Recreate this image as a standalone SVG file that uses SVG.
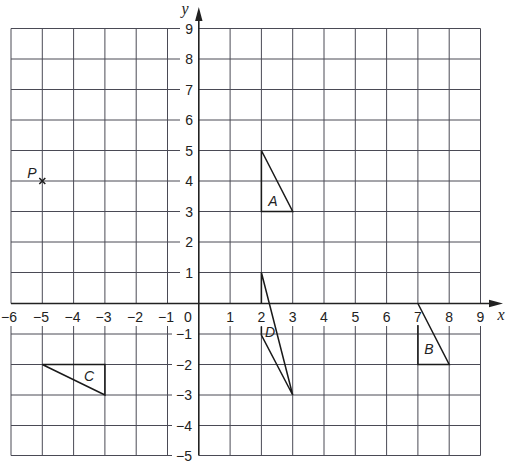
<svg xmlns="http://www.w3.org/2000/svg" width="508" height="471" viewBox="0 0 508 471">
<style>
.grid{stroke:#4a4a55;stroke-width:1;fill:none}
.axis{stroke:#222;stroke-width:1.6;fill:none}
.shape{stroke:#1a1a1a;stroke-width:1.5;fill:none;stroke-linejoin:miter}
.num{font-family:"Liberation Sans",Arial,sans-serif;font-size:14px;fill:#222}
.xl{text-anchor:middle}
.yl{text-anchor:end}
.lab{font-family:"Liberation Sans",Arial,sans-serif;font-size:14px;font-style:italic;fill:#222;text-anchor:middle}
.ax{font-family:"Liberation Serif","Times New Roman",serif;font-size:16px;font-style:italic;fill:#222;text-anchor:middle}
</style>
<rect width="508" height="471" fill="#fff"/>
<g id="grid">
<path class="grid" d="M11 28.5V303.5M11 326V455.5M42.3 28.5V303.5M42.3 326V455.5M73.6 28.5V303.5M73.6 326V455.5M104.9 28.5V303.5M104.9 326V455.5M136.2 28.5V303.5M136.2 326V455.5M167.5 28.5V303.5M167.5 326V455.5M230.1 28.5V303.5M230.1 326V455.5M261.4 28.5V303.5M261.4 326V455.5M292.7 28.5V303.5M292.7 326V455.5M324 28.5V303.5M324 326V455.5M355.3 28.5V303.5M355.3 326V455.5M386.6 28.5V303.5M386.6 326V455.5M417.9 28.5V303.5M417.9 326V455.5M449.2 28.5V303.5M449.2 326V455.5M480.5 28.5V303.5M480.5 326V455.5"/>
<path class="grid" d="M11 28.5H180M198.8 28.5H480.5M11 59H180M198.8 59H480.5M11 89.5H180M198.8 89.5H480.5M11 120H180M198.8 120H480.5M11 150.5H180M198.8 150.5H480.5M11 181H180M198.8 181H480.5M11 211.5H180M198.8 211.5H480.5M11 242H180M198.8 242H480.5M11 272.5H180M198.8 272.5H480.5M11 334H172M198.8 334H480.5M11 364.5H172M198.8 364.5H480.5M11 395H172M198.8 395H480.5M11 425.5H172M198.8 425.5H480.5M11 455.5H172M198.8 455.5H480.5"/>
</g>
<g id="axes">
<path class="axis" d="M11 303.5H490M198.8 455.5V20"/>
<polygon points="503,303.5 489,299.8 489,307.2" fill="#222"/>
<polygon points="198.8,7 195.1,21 202.5,21" fill="#222"/>
<text class="ax" x="501" y="320">x</text>
<text class="ax" x="185" y="14">y</text>
</g>
<g id="x-labels" class="num xl">
<text x="9" y="321.5">−6</text>
<text x="41" y="321.5">−5</text>
<text x="72.5" y="321.5">−4</text>
<text x="103.5" y="321.5">−3</text>
<text x="135" y="321.5">−2</text>
<text x="166" y="321.5">−1</text>
<text x="188" y="321.5">0</text>
<text x="230.1" y="321.5">1</text>
<text x="261.4" y="321.5">2</text>
<text x="292.7" y="321.5">3</text>
<text x="324" y="321.5">4</text>
<text x="355.3" y="321.5">5</text>
<text x="386.6" y="321.5">6</text>
<text x="417.9" y="321.5">7</text>
<text x="449.2" y="321.5">8</text>
<text x="480.5" y="321.5">9</text>
</g>
<g id="y-labels" class="num yl">
<text x="193" y="33.5">9</text>
<text x="193" y="64">8</text>
<text x="193" y="94.5">7</text>
<text x="193" y="125">6</text>
<text x="193" y="155.5">5</text>
<text x="193" y="186">4</text>
<text x="193" y="216.5">3</text>
<text x="193" y="247">2</text>
<text x="193" y="277.5">1</text>
<text x="192" y="339">−1</text>
<text x="192" y="369.5">−2</text>
<text x="192" y="400">−3</text>
<text x="192" y="430.5">−4</text>
<text x="192" y="460.5">−5</text>
</g>
<g id="triangle-A">
<path class="shape" d="M261.4 150.5V211.5H292.7Z"/>
<text class="lab" x="273" y="206">A</text>
</g>
<g id="triangle-B">
<path class="shape" d="M417.9 303.5L449.2 364.5H417.9V325"/>
<text class="lab" x="429" y="353.5">B</text>
</g>
<g id="triangle-C">
<path class="shape" d="M42.3 364.5H104.9V395Z"/>
<text class="lab" x="89" y="381">C</text>
</g>
<g id="triangle-D">
<path class="shape" d="M261.4 303.5V272.5L292.7 395L261.4 335V326.5"/>
<text class="lab" x="270" y="337">D</text>
</g>
<g id="point-P">
<path class="shape" d="M39.3 178L45.3 184M45.3 178L39.3 184" stroke-width="1.3"/>
<text class="lab" x="32" y="178">P</text>
</g>
</svg>
